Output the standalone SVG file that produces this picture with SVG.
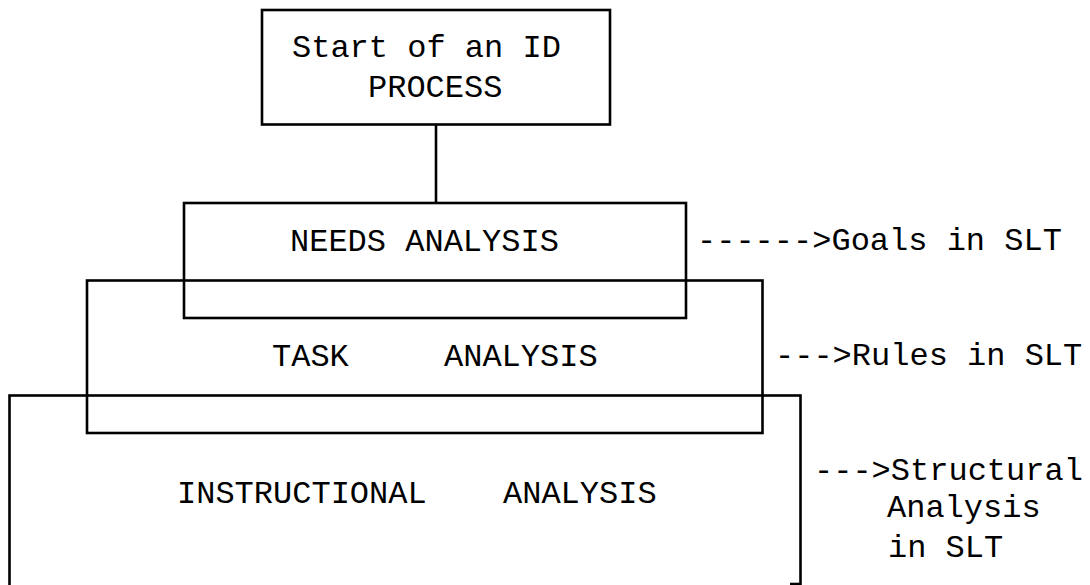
<svg xmlns="http://www.w3.org/2000/svg" width="1090" height="585" viewBox="0 0 1090 585">
  <style>
    .box { fill: none; stroke: #000; stroke-width: 2.6; }
    .link { fill: none; stroke: #000; stroke-width: 2.6; }
    .lbl { font-family: "Courier New", "Liberation Mono", monospace; font-size: 32px; fill: #000; }
  </style>
  <rect width="1090" height="585" fill="#fff"/>

  <!-- connectors -->
  <g id="connectors">
    <line class="link" x1="436" y1="124.5" x2="436" y2="203"/>
  </g>

  <!-- start node -->
  <g id="start">
    <rect class="box" x="262" y="10" width="348" height="114.5"/>
    <text class="lbl" x="292" y="57">Start of an ID</text>
    <text class="lbl" x="368" y="97">PROCESS</text>
  </g>

  <!-- needs analysis -->
  <g id="needs">
    <rect class="box" x="184" y="203" width="502" height="115"/>
    <text class="lbl" x="290" y="251">NEEDS ANALYSIS</text>
    <text class="lbl" x="697" y="250">------&gt;Goals in SLT</text>
  </g>

  <!-- task analysis -->
  <g id="task">
    <rect class="box" x="87" y="280.5" width="675.5" height="152.5"/>
    <text class="lbl" x="272" y="365.5">TASK</text>
    <text class="lbl" x="444" y="365.5">ANALYSIS</text>
    <text class="lbl" x="775" y="365">---&gt;Rules in SLT</text>
  </g>

  <!-- instructional analysis (bottom edge runs past the page) -->
  <g id="instructional">
    <rect class="box" x="9.5" y="395.5" width="791" height="191.5"/>
    <line class="link" x1="790" y1="584" x2="800.5" y2="584"/>
    <text class="lbl" x="177" y="503">INSTRUCTIONAL</text>
    <text class="lbl" x="503" y="503">ANALYSIS</text>
    <text class="lbl" x="814" y="480">---&gt;Structural</text>
    <text class="lbl" x="887" y="517">Analysis</text>
    <text class="lbl" x="888" y="557">in SLT</text>
  </g>
</svg>
